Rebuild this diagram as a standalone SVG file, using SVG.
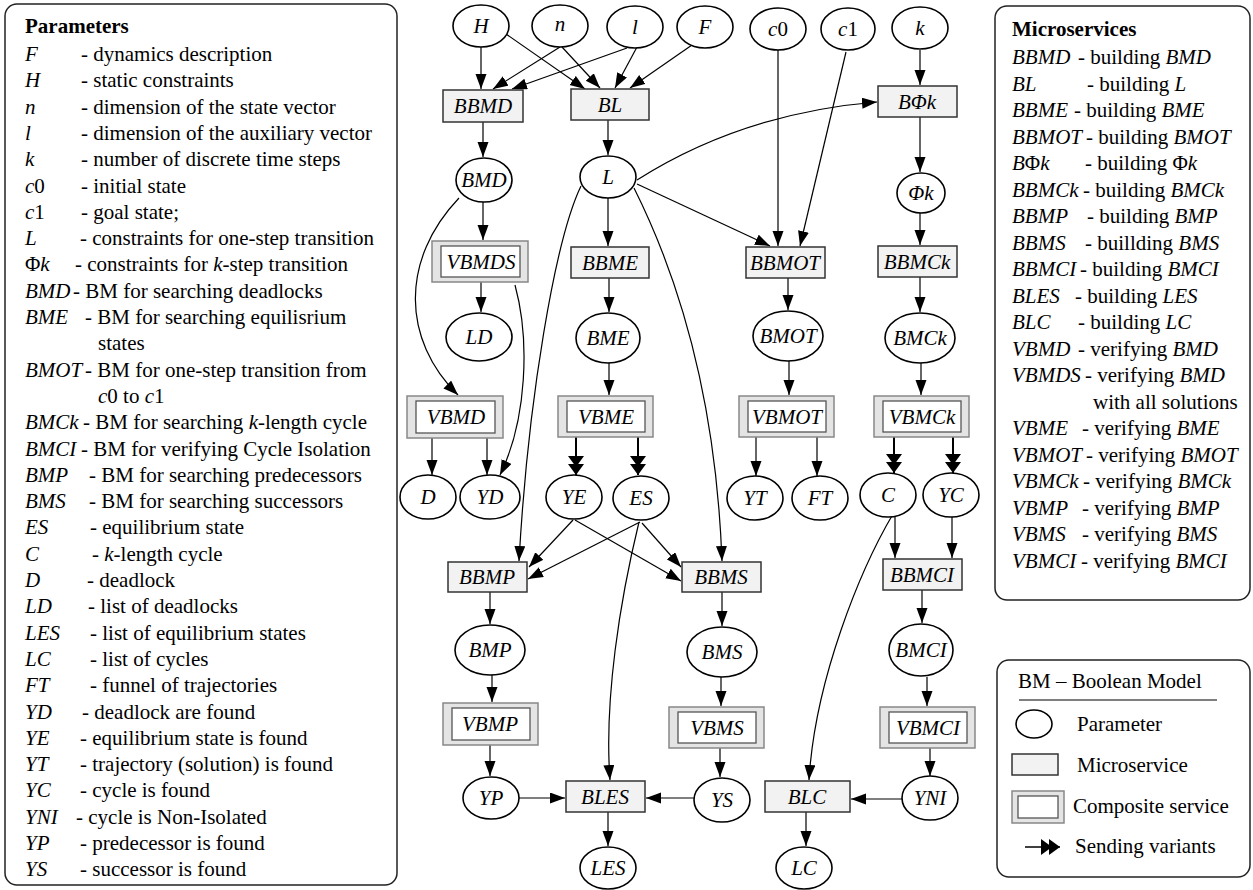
<svg xmlns="http://www.w3.org/2000/svg" width="1253" height="890" viewBox="0 0 1253 890">
<style>
text{font-family:"Liberation Serif","Times New Roman","DejaVu Serif",serif;fill:#000}
.t{font-size:21px}
.h{font-size:21px;font-weight:bold}
.nl{font-size:21px;font-style:italic;text-anchor:middle}
.i{font-style:italic}
.u{font-style:normal}
.panel{fill:#fff;stroke:#222;stroke-width:1.5}
.el{fill:#fff;stroke:#000;stroke-width:1.6}
.box{fill:#f2f2f2;stroke:#333;stroke-width:1.5}
.co{fill:#e4e4e4;stroke:#888;stroke-width:1.5}
.ci{fill:#fff;stroke:#555;stroke-width:1.3}
#connectors path{fill:none;stroke:#000;stroke-width:1.2}
#connectors .d{stroke-width:2}
</style>
<defs>
<marker id="a" markerUnits="userSpaceOnUse" markerWidth="16" markerHeight="12" refX="15" refY="5.5" orient="auto"><path d="M0,0 L15,5.5 L0,11 z" fill="#000"/></marker>
<marker id="a2" markerUnits="userSpaceOnUse" markerWidth="20" markerHeight="16" refX="19" refY="8" orient="auto"><path d="M0,0 L11,8 L0,16 z M8,0 L19,8 L8,16 z" fill="#000"/></marker>
</defs>
<rect width="1253" height="890" fill="#fff"/>

<!-- Parameters panel -->
<g id="parameters-panel">
<rect class="panel" x="5" y="4" width="392" height="881" rx="12"/>
<text class="h" x="25" y="33">Parameters</text>
<text class="t" y="61"><tspan class="i" x="25">F</tspan><tspan x="81">- dynamics description</tspan></text>
<text class="t" y="87.3"><tspan class="i" x="25">H</tspan><tspan x="81">- static constraints</tspan></text>
<text class="t" y="113.6"><tspan class="i" x="25">n</tspan><tspan x="81">- dimension of the state vector</tspan></text>
<text class="t" y="139.9"><tspan class="i" x="25">l</tspan><tspan x="81">- dimension of the auxiliary vector</tspan></text>
<text class="t" y="166.2"><tspan class="i" x="25">k</tspan><tspan x="81">- number of discrete time steps</tspan></text>
<text class="t" y="192.5"><tspan class="i" x="25">c</tspan>0<tspan x="81">- initial state</tspan></text>
<text class="t" y="218.8"><tspan class="i" x="25">c</tspan>1<tspan x="81">- goal state;</tspan></text>
<text class="t" y="245.1"><tspan class="i" x="25">L</tspan><tspan x="80">- constraints for one-step transition</tspan></text>
<text class="t" y="271.4"><tspan x="25">Φ</tspan><tspan class="i">k</tspan><tspan x="75">- constraints for </tspan><tspan class="i">k</tspan>-step transition</text>
<text class="t" y="297.7"><tspan class="i" x="25">BMD</tspan><tspan x="73">- BM for searching deadlocks</tspan></text>
<text class="t" y="324"><tspan class="i" x="25">BME</tspan><tspan x="85">- BM for searching equilisrium</tspan></text>
<text class="t" y="350.3"><tspan x="98">states</tspan></text>
<text class="t" y="376.6"><tspan class="i" x="25">BMOT</tspan><tspan x="85">- BM for one-step transition from</tspan></text>
<text class="t" y="402.9"><tspan class="i" x="98">c</tspan>0 to <tspan class="i">c</tspan>1</text>
<text class="t" y="429.2"><tspan class="i" x="25">BMCk</tspan><tspan x="83">- BM for searching </tspan><tspan class="i">k</tspan>-length cycle</text>
<text class="t" y="455.5"><tspan class="i" x="25">BMCI</tspan><tspan x="81">- BM for verifying Cycle Isolation</tspan></text>
<text class="t" y="481.8"><tspan class="i" x="25">BMP</tspan><tspan x="89">- BM for searching predecessors</tspan></text>
<text class="t" y="508.1"><tspan class="i" x="25">BMS</tspan><tspan x="89">- BM for searching successors</tspan></text>
<text class="t" y="534.4"><tspan class="i" x="25">ES</tspan><tspan x="90">- equilibrium state</tspan></text>
<text class="t" y="560.7"><tspan class="i" x="25">C</tspan><tspan x="92">- </tspan><tspan class="i">k</tspan>-length cycle</text>
<text class="t" y="587"><tspan class="i" x="25">D</tspan><tspan x="87">- deadlock</tspan></text>
<text class="t" y="613.3"><tspan class="i" x="25">LD</tspan><tspan x="88">- list of deadlocks</tspan></text>
<text class="t" y="639.6"><tspan class="i" x="25">LES</tspan><tspan x="90">- list of equilibrium states</tspan></text>
<text class="t" y="665.9"><tspan class="i" x="25">LC</tspan><tspan x="90">- list of cycles</tspan></text>
<text class="t" y="692.2"><tspan class="i" x="25">FT</tspan><tspan x="90">- funnel of trajectories</tspan></text>
<text class="t" y="718.5"><tspan class="i" x="25">YD</tspan><tspan x="82">- deadlock are found</tspan></text>
<text class="t" y="744.8"><tspan class="i" x="25">YE</tspan><tspan x="80">- equilibrium state is found</tspan></text>
<text class="t" y="771.1"><tspan class="i" x="25">YT</tspan><tspan x="80">- trajectory (solution) is found</tspan></text>
<text class="t" y="797.4"><tspan class="i" x="25">YC</tspan><tspan x="80">- cycle is found</tspan></text>
<text class="t" y="823.7"><tspan class="i" x="25">YNI</tspan><tspan x="76">- cycle is Non-Isolated</tspan></text>
<text class="t" y="850"><tspan class="i" x="25">YP</tspan><tspan x="80">- predecessor is found</tspan></text>
<text class="t" y="876.3"><tspan class="i" x="25">YS</tspan><tspan x="80">- successor is found</tspan></text>
</g>

<!-- Microservices panel -->
<g id="microservices-panel">
<rect class="panel" x="995" y="6" width="255" height="594" rx="12"/>
<text class="h" x="1012" y="36">Microservices</text>
<text class="t" y="64"><tspan class="i" x="1012">BBMD</tspan><tspan x="1078">- building </tspan><tspan class="i">BMD</tspan></text>
<text class="t" y="90.5"><tspan class="i" x="1012">BL</tspan><tspan x="1087">- building </tspan><tspan class="i">L</tspan></text>
<text class="t" y="117"><tspan class="i" x="1012">BBME</tspan><tspan x="1074">- building </tspan><tspan class="i">BME</tspan></text>
<text class="t" y="143.5"><tspan class="i" x="1012">BBMOT</tspan><tspan x="1086">- building </tspan><tspan class="i">BMOT</tspan></text>
<text class="t" y="170"><tspan class="i" x="1012">B</tspan>Φ<tspan class="i">k</tspan><tspan x="1085">- building Φ</tspan><tspan class="i">k</tspan></text>
<text class="t" y="196.5"><tspan class="i" x="1012">BBMCk</tspan><tspan x="1083">- building </tspan><tspan class="i">BMCk</tspan></text>
<text class="t" y="223"><tspan class="i" x="1012">BBMP</tspan><tspan x="1087">- building </tspan><tspan class="i">BMP</tspan></text>
<text class="t" y="249.5"><tspan class="i" x="1012">BBMS</tspan><tspan x="1085">- buillding </tspan><tspan class="i">BMS</tspan></text>
<text class="t" y="276"><tspan class="i" x="1012">BBMCI</tspan><tspan x="1080">- building </tspan><tspan class="i">BMCI</tspan></text>
<text class="t" y="302.5"><tspan class="i" x="1012">BLES</tspan><tspan x="1075">- building </tspan><tspan class="i">LES</tspan></text>
<text class="t" y="329"><tspan class="i" x="1012">BLC</tspan><tspan x="1078">- building </tspan><tspan class="i">LC</tspan></text>
<text class="t" y="355.5"><tspan class="i" x="1012">VBMD</tspan><tspan x="1078">- verifying </tspan><tspan class="i">BMD</tspan></text>
<text class="t" y="382"><tspan class="i" x="1012">VBMDS</tspan><tspan x="1085">- verifying </tspan><tspan class="i">BMD</tspan></text>
<text class="t" y="408.5"><tspan x="1093">with all solutions</tspan></text>
<text class="t" y="435"><tspan class="i" x="1012">VBME</tspan><tspan x="1082">- verifying </tspan><tspan class="i">BME</tspan></text>
<text class="t" y="461.5"><tspan class="i" x="1012">VBMOT</tspan><tspan x="1086">- verifying </tspan><tspan class="i">BMOT</tspan></text>
<text class="t" y="488"><tspan class="i" x="1012">VBMCk</tspan><tspan x="1083">- verifying </tspan><tspan class="i">BMCk</tspan></text>
<text class="t" y="514.5"><tspan class="i" x="1012">VBMP</tspan><tspan x="1082">- verifying </tspan><tspan class="i">BMP</tspan></text>
<text class="t" y="541"><tspan class="i" x="1012">VBMS</tspan><tspan x="1082">- verifying </tspan><tspan class="i">BMS</tspan></text>
<text class="t" y="567.5"><tspan class="i" x="1012">VBMCI</tspan><tspan x="1081">- verifying </tspan><tspan class="i">BMCI</tspan></text>
</g>

<!-- Legend -->
<g id="legend">
<rect class="panel" x="997" y="660" width="253" height="217" rx="12"/>
<text class="t" x="1018" y="688">BM – Boolean Model</text>
<line x1="1019" y1="700" x2="1217" y2="700" stroke="#000" stroke-width="1.2"/>
<ellipse class="el" cx="1034" cy="724" rx="18" ry="14"/>
<text class="t" x="1077" y="731">Parameter</text>
<rect class="box" x="1012" y="754" width="46" height="21"/>
<text class="t" x="1077" y="772">Microservice</text>
<rect class="co" x="1012" y="791" width="52" height="32"/>
<rect class="ci" x="1018" y="796" width="40" height="22"/>
<text class="t" x="1073" y="813">Composite service</text>
<line x1="1025" y1="847" x2="1060" y2="847" stroke="#000" stroke-width="1.5" marker-end="url(#a2)"/>
<text class="t" x="1075" y="853">Sending variants</text>
</g>

<!-- Connectors -->
<g id="connectors">
<path d="M481,47 L481,89" marker-end="url(#a)"/>
<path d="M506,34 L585,89" marker-end="url(#a)"/>
<path d="M560,47 L493,89" marker-end="url(#a)"/>
<path d="M562,47 L600,88" marker-end="url(#a)"/>
<path d="M627,48 L512,89" marker-end="url(#a)"/>
<path d="M637,47 L615,88" marker-end="url(#a)"/>
<path d="M692,45 L630,88" marker-end="url(#a)"/>
<path d="M778,50 L778,246" marker-end="url(#a)"/>
<path d="M846,52 L800,246" marker-end="url(#a)"/>
<path d="M920,50 L920,85" marker-end="url(#a)"/>
<path d="M483,122 L483,157" marker-end="url(#a)"/>
<path d="M608,120 L608,155" marker-end="url(#a)"/>
<path d="M637,180 C700,140 780,110 877,102" marker-end="url(#a)"/>
<path d="M637,184 L770,246" marker-end="url(#a)"/>
<path d="M608,198 L608,246" marker-end="url(#a)"/>
<path d="M581,186 C555,240 528,400 519,561" marker-end="url(#a)"/>
<path d="M634,188 C680,280 716,400 722,561" marker-end="url(#a)"/>
<path d="M459,198 C400,260 402,340 458,395" marker-end="url(#a)"/>
<path d="M483,202 L483,240" marker-end="url(#a)"/>
<path d="M481,282 L481,312" marker-end="url(#a)"/>
<path d="M515,285 C530,340 527,420 500,475" marker-end="url(#a)"/>
<path d="M609,278 L609,312" marker-end="url(#a)"/>
<path d="M609,363 L609,395" marker-end="url(#a)"/>
<path d="M788,278 L788,310" marker-end="url(#a)"/>
<path d="M789,361 L789,395" marker-end="url(#a)"/>
<path d="M920,117 L920,172" marker-end="url(#a)"/>
<path d="M920,213 L920,245" marker-end="url(#a)"/>
<path d="M920,277 L920,312" marker-end="url(#a)"/>
<path d="M921,363 L921,395" marker-end="url(#a)"/>
<path d="M432,438 L432,475" marker-end="url(#a)"/>
<path d="M487,438 L487,475" marker-end="url(#a)"/>
<path class="d" d="M576,437 L576,475" marker-end="url(#a2)"/>
<path class="d" d="M638,437 L638,475" marker-end="url(#a2)"/>
<path d="M756,437 L756,476" marker-end="url(#a)"/>
<path d="M817,437 L817,476" marker-end="url(#a)"/>
<path class="d" d="M894,437 L894,473" marker-end="url(#a2)"/>
<path class="d" d="M953,437 L953,473" marker-end="url(#a2)"/>
<path d="M573,520 L529,567" marker-end="url(#a)"/>
<path d="M640,522 L528,579" marker-end="url(#a)"/>
<path d="M575,520 L681,581" marker-end="url(#a)"/>
<path d="M642,523 L681,567" marker-end="url(#a)"/>
<path d="M639,522 C620,600 604,700 610,780" marker-end="url(#a)"/>
<path d="M893,514 C860,570 815,680 809,780" marker-end="url(#a)"/>
<path d="M895,517 L895,558" marker-end="url(#a)"/>
<path d="M952,517 L952,558" marker-end="url(#a)"/>
<path d="M490,592 L490,624" marker-end="url(#a)"/>
<path d="M722,592 L722,626" marker-end="url(#a)"/>
<path d="M922,590 L922,623" marker-end="url(#a)"/>
<path d="M492,675 L492,702" marker-end="url(#a)"/>
<path d="M721,677 L721,706" marker-end="url(#a)"/>
<path d="M927,677 L927,706" marker-end="url(#a)"/>
<path d="M490,745 L490,776" marker-end="url(#a)"/>
<path d="M720,748 L720,777" marker-end="url(#a)"/>
<path d="M930,748 L930,776" marker-end="url(#a)"/>
<path d="M519,798 L565,798" marker-end="url(#a)"/>
<path d="M694,798 L646,798" marker-end="url(#a)"/>
<path d="M902,799 L851,799" marker-end="url(#a)"/>
<path d="M608,812 L608,846" marker-end="url(#a)"/>
<path d="M806,812 L806,846" marker-end="url(#a)"/>
</g>

<!-- Nodes -->
<g id="H"><ellipse class="el" cx="481" cy="26" rx="28" ry="21"/><text class="nl" x="481" y="33">H</text></g>
<g id="n"><ellipse class="el" cx="560" cy="26" rx="28" ry="21"/><text class="nl" x="560" y="31">n</text></g>
<g id="l"><ellipse class="el" cx="635" cy="27" rx="28" ry="21"/><text class="nl" x="635" y="34">l</text></g>
<g id="F"><ellipse class="el" cx="705" cy="27" rx="28" ry="21"/><text class="nl" x="705" y="34">F</text></g>
<g id="c0"><ellipse class="el" cx="778" cy="29" rx="28" ry="21"/><text class="nl" x="778" y="36">c<tspan class="u">0</tspan></text></g>
<g id="c1"><ellipse class="el" cx="848" cy="29" rx="27" ry="21"/><text class="nl" x="848" y="36">c<tspan class="u">1</tspan></text></g>
<g id="k"><ellipse class="el" cx="920" cy="28" rx="28" ry="21"/><text class="nl" x="920" y="35">k</text></g>

<g id="BBMD"><rect class="box" x="443" y="90" width="80" height="32"/><text class="nl" x="483" y="113">BBMD</text></g>
<g id="BL"><rect class="box" x="571" y="89" width="78" height="31"/><text class="nl" x="610" y="112">BL</text></g>
<g id="BPhik"><rect class="box" x="878" y="86" width="79" height="31"/><text class="nl" x="917" y="109">BΦk</text></g>

<g id="BMD"><ellipse class="el" cx="484" cy="180" rx="28" ry="22"/><text class="nl" x="484" y="187">BMD</text></g>
<g id="L"><ellipse class="el" cx="608" cy="177" rx="28" ry="21"/><text class="nl" x="608" y="184">L</text></g>
<g id="Phik"><ellipse class="el" cx="921" cy="193" rx="24" ry="20"/><text class="nl" x="921" y="200">Φk</text></g>

<g id="VBMDS"><rect class="co" x="432" y="241" width="96" height="41"/><rect class="ci" x="441" y="246" width="79" height="31"/><text class="nl" x="481" y="269">VBMDS</text></g>
<g id="BBME"><rect class="box" x="571" y="247" width="78" height="31"/><text class="nl" x="610" y="270">BBME</text></g>
<g id="BBMOT"><rect class="box" x="746" y="247" width="79" height="31"/><text class="nl" x="785" y="270">BBMOT</text></g>
<g id="BBMCk"><rect class="box" x="878" y="246" width="79" height="31"/><text class="nl" x="917" y="269">BBMCk</text></g>

<g id="LD"><ellipse class="el" cx="479" cy="337" rx="33" ry="24"/><text class="nl" x="479" y="344">LD</text></g>
<g id="BME"><ellipse class="el" cx="608" cy="338" rx="32" ry="25"/><text class="nl" x="608" y="345">BME</text></g>
<g id="BMOT"><ellipse class="el" cx="788" cy="336" rx="35" ry="25"/><text class="nl" x="788" y="343">BMOT</text></g>
<g id="BMCk"><ellipse class="el" cx="920" cy="338" rx="35" ry="25"/><text class="nl" x="920" y="345">BMCk</text></g>

<g id="VBMD"><rect class="co" x="407" y="396" width="96" height="42"/><rect class="ci" x="416" y="401" width="79" height="32"/><text class="nl" x="456" y="424">VBMD</text></g>
<g id="VBME"><rect class="co" x="558" y="396" width="95" height="41"/><rect class="ci" x="567" y="401" width="78" height="31"/><text class="nl" x="606" y="424">VBME</text></g>
<g id="VBMOT"><rect class="co" x="739" y="396" width="95" height="41"/><rect class="ci" x="748" y="401" width="78" height="31"/><text class="nl" x="787" y="424">VBMOT</text></g>
<g id="VBMCk"><rect class="co" x="874" y="396" width="95" height="41"/><rect class="ci" x="883" y="401" width="78" height="31"/><text class="nl" x="922" y="424">VBMCk</text></g>

<g id="D"><ellipse class="el" cx="428" cy="497" rx="28" ry="22"/><text class="nl" x="428" y="504">D</text></g>
<g id="YD"><ellipse class="el" cx="490" cy="497" rx="30" ry="22"/><text class="nl" x="490" y="504">YD</text></g>
<g id="YE"><ellipse class="el" cx="574" cy="497" rx="28" ry="22"/><text class="nl" x="574" y="504">YE</text></g>
<g id="ES"><ellipse class="el" cx="641" cy="498" rx="28" ry="22"/><text class="nl" x="641" y="505">ES</text></g>
<g id="YT"><ellipse class="el" cx="755" cy="498" rx="28" ry="22"/><text class="nl" x="755" y="505">YT</text></g>
<g id="FT"><ellipse class="el" cx="820" cy="498" rx="28" ry="22"/><text class="nl" x="820" y="505">FT</text></g>
<g id="C"><ellipse class="el" cx="888" cy="495" rx="28" ry="22"/><text class="nl" x="888" y="502">C</text></g>
<g id="YC"><ellipse class="el" cx="951" cy="495" rx="28" ry="22"/><text class="nl" x="951" y="502">YC</text></g>

<g id="BBMP"><rect class="box" x="448" y="562" width="79" height="30"/><text class="nl" x="487" y="584">BBMP</text></g>
<g id="BBMS"><rect class="box" x="682" y="562" width="79" height="30"/><text class="nl" x="721" y="584">BBMS</text></g>
<g id="BBMCI"><rect class="box" x="883" y="559" width="79" height="31"/><text class="nl" x="922" y="582">BBMCI</text></g>

<g id="BMP"><ellipse class="el" cx="490" cy="650" rx="35" ry="25"/><text class="nl" x="490" y="657">BMP</text></g>
<g id="BMS"><ellipse class="el" cx="722" cy="652" rx="35" ry="25"/><text class="nl" x="722" y="659">BMS</text></g>
<g id="BMCI"><ellipse class="el" cx="921" cy="650" rx="32" ry="26"/><text class="nl" x="921" y="657">BMCI</text></g>

<g id="VBMP"><rect class="co" x="443" y="703" width="95" height="42"/><rect class="ci" x="452" y="708" width="78" height="32"/><text class="nl" x="490" y="731">VBMP</text></g>
<g id="VBMS"><rect class="co" x="669" y="707" width="95" height="41"/><rect class="ci" x="678" y="712" width="78" height="31"/><text class="nl" x="717" y="735">VBMS</text></g>
<g id="VBMCI"><rect class="co" x="880" y="707" width="95" height="41"/><rect class="ci" x="889" y="712" width="78" height="31"/><text class="nl" x="928" y="735">VBMCI</text></g>

<g id="YP"><ellipse class="el" cx="491" cy="798" rx="28" ry="21"/><text class="nl" x="491" y="805">YP</text></g>
<g id="BLES"><rect class="box" x="566" y="781" width="79" height="31"/><text class="nl" x="605" y="804">BLES</text></g>
<g id="YS"><ellipse class="el" cx="722" cy="800" rx="28" ry="22"/><text class="nl" x="722" y="807">YS</text></g>
<g id="BLC"><rect class="box" x="765" y="781" width="85" height="31"/><text class="nl" x="807" y="804">BLC</text></g>
<g id="YNI"><ellipse class="el" cx="930" cy="798" rx="28" ry="22"/><text class="nl" x="930" y="805">YNI</text></g>

<g id="LES"><ellipse class="el" cx="608" cy="868" rx="28" ry="21"/><text class="nl" x="608" y="875">LES</text></g>
<g id="LC"><ellipse class="el" cx="804" cy="868" rx="28" ry="21"/><text class="nl" x="804" y="875">LC</text></g>
</svg>
